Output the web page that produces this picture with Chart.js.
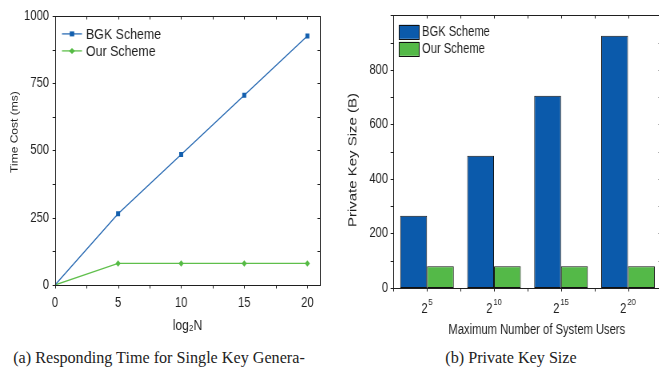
<!DOCTYPE html>
<html>
<head>
<meta charset="utf-8">
<script src="https://cdn.jsdelivr.net/npm/chart.js@4.4.1/dist/chart.umd.min.js"></script>
<style>
  html, body { margin: 0; padding: 0; background: #fff; }
  body { position: relative; width: 659px; height: 374px; overflow: hidden; }
  /* the figure is horizontally condensed, so the charts are drawn wide and squeezed */
  .fig { position: absolute; top: 0; transform: scaleX(0.8); transform-origin: 0 0; }
  .cap {
    position: absolute; top: 348px; line-height: 20px;
    font-family: "Liberation Serif", "Times New Roman", serif; font-size: 17px;
    color: #222; white-space: nowrap;
    transform: translateX(-50%) scaleX(0.95);
  }
</style>
</head>
<body>
<div class="fig" style="left:0"><canvas id="timeChart" width="413" height="345"></canvas></div>
<div class="fig" style="left:330px"><canvas id="keyChart" width="419" height="345"></canvas></div>
<div class="cap" style="left:159px">(a) Responding Time for Single Key Genera-</div>
<div class="cap" style="left:511px">(b) Private Key Size</div>
<script>
// (a) time cost vs log2 N
const logN = [0, 5, 10, 15, 20];
const bgkTime = [0, 265, 485, 705, 925];
const ourTime = [0, 80, 80, 80, 80];

// (b) private key size per number of users (2^5 ... 2^20)
const userExponents = [5, 10, 15, 20];
const userLabels = userExponents.map(e => '2^' + e);
const bgkKey = [265, 485, 705, 925];
const ourKey = [80, 80, 80, 80];

const schemeNames = ['BGK Scheme', 'Our Scheme'];

const SANS = '"Liberation Sans", Arial, sans-serif';
const INK = '#1f1f1f';
const SQ = 0.8; // horizontal squeeze of the figure

function steps(from, to, step) {
  const out = [];
  for (let v = from; v <= to + 1e-9; v += step) out.push(v);
  return out;
}

// matlab style box with ticks: left/bottom out, top/right in
const frame = {
  id: 'frame',
  afterDatasetsDraw(chart, args, opts) {
    const { ctx, chartArea: a, scales } = chart;
    const L = Math.round(a.left) + 0.5, R = Math.round(a.right) + 0.5;
    const T = Math.round(a.top) + 0.5, B = Math.round(a.bottom) + 0.5;
    const len = 3, hlen = 3 / SQ;
    ctx.save();
    ctx.strokeStyle = INK;
    ctx.lineWidth = 1;
    ctx.strokeRect(L, T, R - L, B - T);
    ctx.beginPath();
    opts.xMarks(scales.x).forEach(p => {
      p = Math.round(p) + 0.5;
      ctx.moveTo(p, B); ctx.lineTo(p, B + len);
      ctx.moveTo(p, T); ctx.lineTo(p, T + len);
    });
    opts.yMarks(scales.y).forEach(p => {
      p = Math.round(p) + 0.5;
      ctx.moveTo(L, p); ctx.lineTo(L - hlen, p);
      ctx.moveTo(R, p); ctx.lineTo(R - hlen, p);
    });
    ctx.stroke();
    ctx.restore();
  }
};

// legend drawn inside the plot, top left
const boxLegend = {
  id: 'boxLegend',
  afterDraw(chart, args, opts) {
    const { ctx, chartArea: a } = chart;
    ctx.save();
    ctx.font = opts.size + 'px ' + SANS;
    ctx.textBaseline = 'middle';
    chart.data.datasets.forEach((ds, i) => {
      const x = a.left + opts.x;
      const y = a.top + opts.y + i * opts.gap;
      if (opts.kind === 'line') {
        ctx.strokeStyle = ds.borderColor;
        ctx.lineWidth = 1.3;
        ctx.beginPath();
        ctx.moveTo(x, y); ctx.lineTo(x + 25, y);
        ctx.stroke();
        ctx.fillStyle = ds.pointBackgroundColor;
        ctx.beginPath();
        if (ds.pointStyle === 'rect') {
          ctx.rect(x + 12.5 - 2.8, y - 2.5, 5.6, 5);
        } else {
          ctx.moveTo(x + 12.5, y - 3); ctx.lineTo(x + 16.2, y);
          ctx.lineTo(x + 12.5, y + 3); ctx.lineTo(x + 8.8, y);
          ctx.closePath();
        }
        ctx.fill();
      } else {
        ctx.fillStyle = ds.backgroundColor;
        ctx.fillRect(x, y - 7, 25, 14);
        ctx.strokeStyle = '#111';
        ctx.lineWidth = 1;
        ctx.strokeRect(Math.round(x) + 0.5, Math.round(y - 7) + 0.5, 25, 14);
      }
      ctx.fillStyle = INK;
      ctx.fillText(ds.label, x + opts.textX, y + 0.5);
    });
    ctx.restore();
  }
};

// category labels 2^n with a real raised exponent
const powerLabels = {
  id: 'powerLabels',
  afterDraw(chart) {
    const { ctx, chartArea: a, scales: { x } } = chart;
    ctx.save();
    ctx.fillStyle = INK;
    ctx.textBaseline = 'alphabetic';
    userExponents.forEach((e, i) => {
      const base = '2', sup = String(e);
      ctx.font = '14px ' + SANS;
      const wb = ctx.measureText(base).width;
      ctx.font = '9.5px ' + SANS;
      const ws = ctx.measureText(sup).width;
      const left = x.getPixelForValue(i) - (wb + ws + 1) / 2;
      ctx.font = '14px ' + SANS;
      ctx.fillText(base, left, a.bottom + 25);
      ctx.font = '9.5px ' + SANS;
      ctx.fillText(sup, left + wb + 1, a.bottom + 16.5);
    });
    ctx.restore();
  }
};

new Chart(document.getElementById('timeChart'), {
  type: 'line',
  data: {
    datasets: [
      {
        label: schemeNames[0],
        data: logN.map((n, i) => ({ x: n, y: bgkTime[i] })),
        borderColor: '#2d6db4',
        borderWidth: 1.3,
        pointStyle: 'rect',
        pointRadius: c => (c.raw && c.raw.x === 0 ? 0 : 3.5),
        pointBackgroundColor: '#135fae',
        pointBorderWidth: 0
      },
      {
        label: schemeNames[1],
        data: logN.map((n, i) => ({ x: n, y: ourTime[i] })),
        borderColor: '#5fbf4b',
        borderWidth: 1.3,
        pointStyle: 'rectRot',
        pointRadius: c => (c.raw && c.raw.x === 0 ? 0 : 3.2),
        pointBackgroundColor: '#55bb44',
        pointBorderWidth: 0
      }
    ]
  },
  options: {
    responsive: false,
    animation: false,
    layout: { padding: { top: 11, right: 13, left: 0, bottom: 0 } },
    plugins: {
      legend: { display: false },
      tooltip: { enabled: false },
      frame: {
        xMarks: s => steps(0, 20, 2.5).map(v => s.getPixelForValue(v)),
        yMarks: s => steps(0, 1000, 125).map(v => s.getPixelForValue(v))
      },
      boxLegend: { kind: 'line', x: 8.75, y: 18, gap: 17, textX: 30, size: 15.5 }
    },
    scales: {
      x: {
        type: 'linear', min: 0, max: 21,
        grid: { display: false, drawTicks: false }, border: { display: false },
        ticks: { stepSize: 5, includeBounds: false, padding: 10, color: INK, font: { family: SANS, size: 14 }, callback: v => String(v) },
        title: { display: true, text: 'log₂N', color: INK, font: { family: SANS, size: 15 }, padding: { top: 0, bottom: 10 } },
        afterFit: s => { s.height = 60; }
      },
      y: {
        min: 0, max: 1000,
        grid: { display: false, drawTicks: false }, border: { display: false },
        ticks: { stepSize: 250, padding: 7.5, color: INK, font: { family: SANS, size: 14 }, callback: v => String(v) },
        title: { display: true, text: '           Time Cost (ms)', color: INK, font: { family: SANS, size: 12 }, padding: { top: 11.5, bottom: 0 } },
        afterFit: s => { s.width = 68.75; }
      }
    }
  },
  plugins: [frame, boxLegend]
});

new Chart(document.getElementById('keyChart'), {
  type: 'bar',
  data: {
    labels: userLabels,
    datasets: [
      { label: schemeNames[0], data: bgkKey, backgroundColor: '#0b5aab', borderColor: '#111', borderWidth: 1, borderSkipped: false, categoryPercentage: 0.8, barPercentage: 1 },
      { label: schemeNames[1], data: ourKey, backgroundColor: '#54b948', borderColor: '#111', borderWidth: 1, borderSkipped: false, categoryPercentage: 0.8, barPercentage: 1 }
    ]
  },
  options: {
    responsive: false,
    animation: false,
    layout: { padding: { top: 11, right: 4.6, left: 0, bottom: 0 } },
    plugins: {
      legend: { display: false },
      tooltip: { enabled: false },
      frame: {
        xMarks: s => {
          const band = s.getPixelForValue(1) - s.getPixelForValue(0);
          const marks = [];
          userLabels.forEach((l, i) => {
            const c = s.getPixelForValue(i);
            marks.push(c - band / 2, c);
          });
          return marks;
        },
        yMarks: s => steps(0, 1000, 100).map(v => s.getPixelForValue(v))
      },
      boxLegend: { kind: 'box', x: 6.9, y: 16.5, gap: 17, textX: 28.75, size: 14 }
    },
    scales: {
      x: {
        grid: { display: false, drawTicks: false }, border: { display: false },
        ticks: { display: false },
        title: { display: true, text: '      Maximum Number of System Users', color: INK, font: { family: SANS, size: 14 }, padding: { top: 0, bottom: 6 } },
        afterFit: s => { s.height = 57; }
      },
      y: {
        min: 0, max: 1000,
        grid: { display: false, drawTicks: false }, border: { display: false },
        ticks: { stepSize: 200, padding: 6.9, color: INK, font: { family: SANS, size: 14 }, callback: v => (v === 1000 ? '' : String(v)) },
        title: { display: true, text: 'Private Key Size (B)    ', color: INK, font: { family: SANS, size: 15 }, padding: { top: 19.75, bottom: 0 } },
        afterFit: s => { s.width = 79.4; }
      }
    }
  },
  plugins: [frame, boxLegend, powerLabels]
});
</script>
</body>
</html>
